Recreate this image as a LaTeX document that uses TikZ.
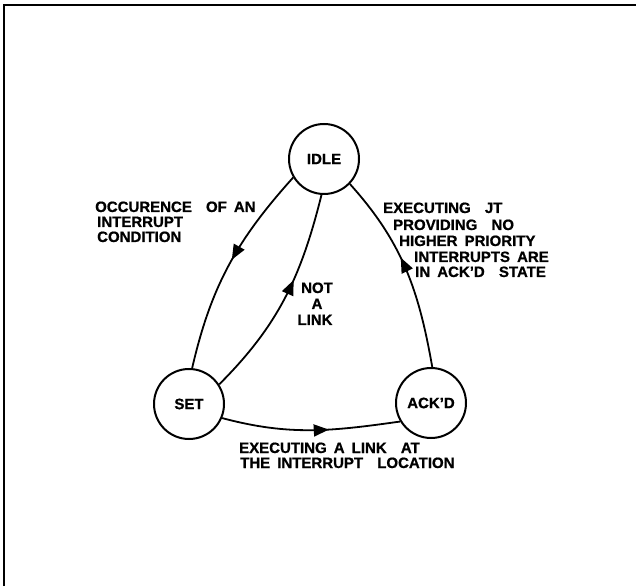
\documentclass[tikz,border=0pt]{standalone}
\usepackage{fontspec}
\setmainfont{Liberation Sans}[WordSpace=1.7,BoldFeatures={FakeBold=0.8}]
\usetikzlibrary{arrows.meta,decorations.markings}
\newcommand\diagfont{\fontsize{15}{15}\selectfont\bfseries}
\begin{document}
\begin{tikzpicture}[x=1pt,y=1pt,
  state/.style={circle,draw,line width=2pt,minimum size=70pt,inner sep=0pt,font=\diagfont},
  edge/.style={line width=1.8pt},
  flow/.style={postaction={decorate,decoration={markings,
      mark=at position #1 with {\arrow{Triangle[length=15pt,width=12pt]}}}}},
  txt/.style={inner sep=0pt,font=\diagfont,anchor=base west},
  ctxt/.style={inner sep=0pt,font=\diagfont,anchor=base}]
\useasboundingbox (0,0) rectangle (636,586);
% frame (top and left rules)
\draw[line width=2pt] (3.5,0) -- (3.5,580.5) -- (636,580.5);

% states
\node[state] (idle) at (324,427) {IDLE};
\node[state] (set)  at (189,182) {SET};
\node[state] (ackd) at (431,183) {ACK'D};

% transitions
\draw[edge,flow=0.47] (idle.211) to[out=228,in=77] (set.85);
\draw[edge,flow=0.59] (set.33) to[out=45,in=256] (idle.266);
\draw[edge,flow=0.56] (ackd.88) to[out=100,in=-48] (idle.316);
\draw[edge,flow=0.6]  (set.-23) to[out=-15,in=188] (ackd.211);

% transition labels
\node[txt] (l1a) at (95,374) {OCCURENCE\ \ OF AN};
\node[txt] (l1b) at (97,359) {INTERRUPT};
\node[txt] (l1c) at (97,344) {CONDITION};

\node[txt] (l2a) at (383,373) {EXECUTING\ \ JT};
\node[txt] (l2b) at (393,356) {PROVIDING\ \ NO};
\node[txt] (l2c) at (399,340) {HIGHER\ PRIORITY};
\node[txt] (l2d) at (414,324) {INTERRUPTS ARE};
\node[txt] (l2e) at (415,309) {IN ACK'D\ \ STATE};

\node[ctxt] (l3a) at (317,293) {NOT};
\node[ctxt] (l3b) at (317,277) {A};
\node[ctxt] (l3c) at (315,261) {LINK};

\node[txt] (l4a) at (239,133) {EXECUTING A LINK\ \ AT};
\node[txt] (l4b) at (240,118) {THE\ INTERRUPT\ \ LOCATION};
\end{tikzpicture}
\end{document}
